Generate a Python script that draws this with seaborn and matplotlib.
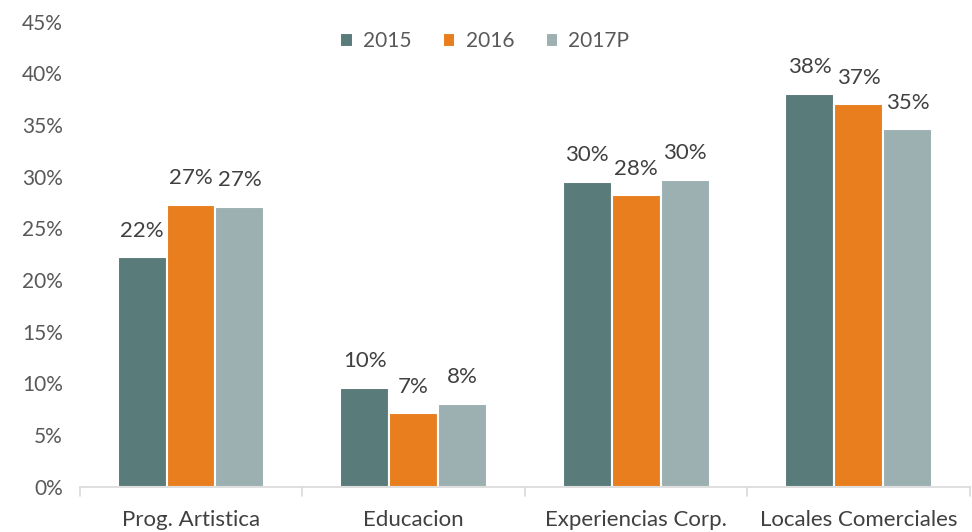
import pandas as pd
import numpy as np
import matplotlib.pyplot as plt
import seaborn as sns
from matplotlib.ticker import PercentFormatter

categorias = ['Prog. Artistica', 'Educacion', 'Experiencias Corp.', 'Locales Comerciales']
anios = ['2015', '2016', '2017P']
v2015 = [22.2, 9.6, 29.5, 38.0]
v2016 = [27.3, 7.1, 28.2, 37.0]
v2017 = [27.1, 8.0, 29.7, 34.6]

df = pd.DataFrame({
    'categoria': categorias * 3,
    'anio': [a for a in anios for _ in categorias],
    'valor': v2015 + v2016 + v2017,
})

sns.set_style('white')
plt.rcParams['font.family'] = ['Lato', 'DejaVu Sans']

colores = ['#597B7A', '#E87E1E', '#9CB0B1']

fig = plt.figure(figsize=(9.72, 5.32), dpi=100)
ax = fig.add_axes([0.082, 0.085, 0.916, 0.874])
sns.barplot(data=df, x='categoria', y='valor', hue='anio', palette=colores,
            saturation=1, width=0.66, edgecolor='white', linewidth=1.5, ax=ax)

for cont in ax.containers:
    ax.bar_label(cont, labels=[f'{v:.0f}%' for v in cont.datavalues],
                 padding=12, fontsize=16, color='#404040')

ax.set_ylim(0, 45)
ax.set_yticks(np.arange(0, 46, 5))
ax.yaxis.set_major_formatter(PercentFormatter(decimals=0))
ax.set_xlabel('')
ax.set_ylabel('')
ax.tick_params(axis='y', labelsize=15, labelcolor='#595959', length=0, pad=12)
ax.tick_params(axis='x', labelsize=16, labelcolor='#404040', length=0, pad=17)

for s in ['top', 'right', 'left']:
    ax.spines[s].set_visible(False)
ax.spines['bottom'].set_color('#D9D9D9')
ax.spines['bottom'].set_linewidth(1.2)
ax.set_xlim(-0.5, 3.5)
for xb in np.arange(-0.5, 4, 1):
    ax.plot([xb, xb], [0, -0.9], color='#D9D9D9', lw=1.2, clip_on=False)

leg = ax.legend(loc='upper center', bbox_to_anchor=(0.455, 1.02), ncol=3, frameon=False,
                fontsize=15, handlelength=0.6, handleheight=0.6, columnspacing=1.5,
                handletextpad=0.5, labelcolor='#595959')

fig.savefig('out.png', dpi=100)
